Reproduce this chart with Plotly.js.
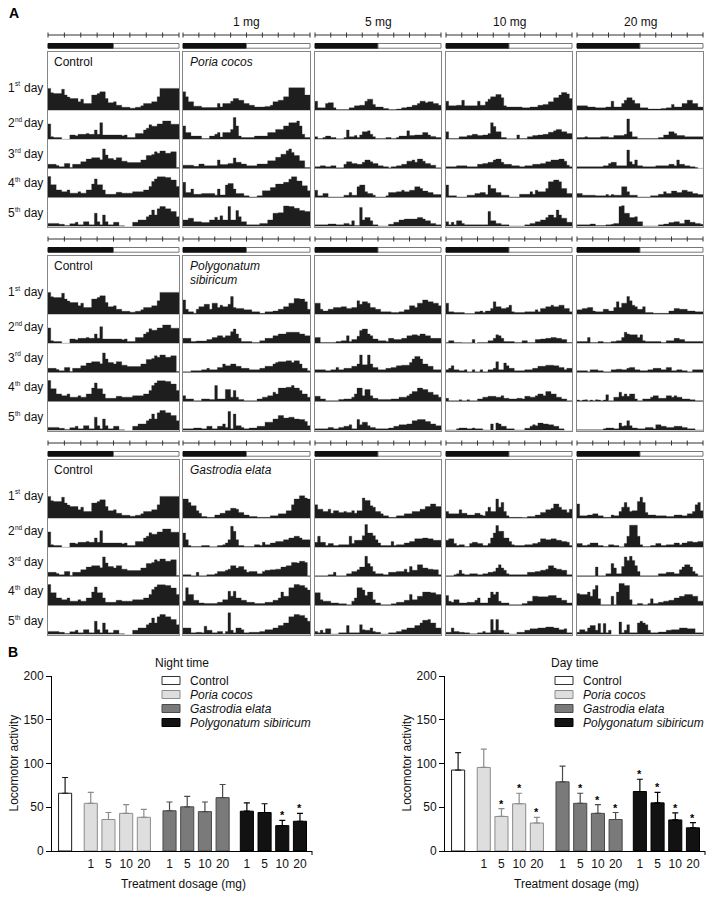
<!DOCTYPE html>
<html><head><meta charset="utf-8">
<script src="https://cdn.plot.ly/plotly-3.0.1.min.js"></script>
<style>html,body{margin:0;padding:0;background:#fff}#chart{width:713px;height:897px}</style>
</head><body><div id="chart"></div>
<script>
// ---------------- DATA ----------------
// Actogram activity per 30-min bin (48 bins = 24 h), in tenths of a row height, days 1..5
const controlDays = [
[7.5,6,5.7,5.7,5.7,7.2,5.2,4.5,4,4,4,2.9,3.8,2.3,2.3,2.3,5.2,5.2,5.7,6.3,6.3,4,2.6,2.6,2.9,1.7,1.7,1,1,1,0.7,0.7,1,1,1.5,2.3,2.3,2.3,2.9,2.9,4.6,7.5,7.5,7.5,7.5,7.5,7.5,7.5],
[5.3,0.9,0.6,0.6,0.6,0,0,0,1.5,1.5,1.2,1.7,1.7,1.7,2,1.7,1.7,3.2,1.7,5.7,1.5,1.5,1.5,1.5,1.5,1.5,1.5,1.2,1.5,0.6,0.6,0.6,2,2,2,3.2,3.8,5,4.5,4.5,5.3,5.3,6.3,6.3,6.3,5.2,5.2,5.2],
[1.4,1.4,1.4,1,0.6,0.6,1.7,1.7,0.3,1.4,1.4,1.4,2.3,2.3,3.2,3.2,3.7,3.7,3.7,3,6.7,4.6,3.4,3.4,2.9,3.7,3.7,2.5,2.5,2,2,2,2,2,2.9,2.9,4.4,4.4,4.8,5.7,5.2,6,6,5.2,5.2,5.7,5.7,0.3],
[7.2,4.4,4.4,2.6,2.6,2,2,2.6,1.5,1.5,1.5,2,1.5,1.5,2.6,2.6,4.6,6.4,4.4,4.4,2.6,1.1,1.1,1.1,1.1,1.8,1.8,1.5,1.5,1.5,1.5,2,2,2,2,2.6,2.6,3.8,5.5,6.4,7.1,7.1,7.1,6.9,6.9,6,6,3.8],
[1.1,1.1,1.1,1.1,0.8,0.8,0.4,0.4,1,1,1.5,0.6,0.6,1.7,1.7,0.6,0.6,4.6,1.7,0.6,4,1.7,0.6,0.6,1.5,1.5,0.3,0.3,0,0,0,1.5,1.5,2.3,2.3,2.3,3.4,4,5.7,4,6.1,6.9,6.9,6.1,6.1,5.2,5.2,3.4]
];
const poria1mg = [
[6.3,4.6,2.9,2.9,1.4,1.4,1.4,0.9,0.9,0.9,0.9,0.9,0.9,2.3,1.1,2.3,2.3,2.3,3.1,4,4,3.4,3.4,2.3,2.3,1.7,1.7,1.1,1.1,1.1,1.1,1.3,1.3,1.7,2.9,2.9,3.4,3.4,4.6,4.6,7.7,7.7,7.7,7.7,7.7,7.7,5.2,5.2],
[4.6,2.3,2.3,1.1,1.1,1.1,1.1,0.3,0.3,0.3,1.1,1.1,1.7,2.3,0.8,2.3,2.3,2.3,3.4,7.5,4.6,1.1,0.6,0.6,0.6,0.6,0.6,1.1,1.1,1.1,1.1,1.1,2.3,2.3,2.3,3.4,3.4,3.4,4.6,4.6,5.7,5.7,5.7,6.3,4.6,1.7,0.6,0.6],
[1.1,1.1,1.1,1.1,0.7,0.7,1.5,1.5,0.9,0.9,0.9,0.9,0.9,2.9,1.3,1.3,1.3,1.7,1.7,3.6,2.1,2.1,1.5,1.5,0.9,0.9,0.9,0.9,1.5,1.5,1.5,1.5,2.6,2.6,2.6,3.8,3.8,4.9,4.9,6.1,6.7,5.5,4.4,4.4,2.6,2.6,0.3,0.3],
[5.2,1.7,1.7,2.9,1.1,1.1,1.1,1.4,1.4,1.4,1.4,1.4,0.8,2.9,0.9,0.9,4.3,4.8,4.8,2.9,1.4,1.4,1.4,0.6,0.6,0.2,0.2,0.2,0.6,0.6,2.3,2.3,2.3,3.4,3.4,4.6,4.6,4.6,5.2,5.2,6.3,7.1,7.1,5.7,5.7,4,4,2.3],
[2.3,2.3,2.9,2.9,1.7,1.7,1.7,1.4,1.4,1.4,2.3,2.3,3.2,2.3,3.7,2.3,2.3,6.9,2.3,2.3,5.5,3.4,1.7,1.7,0.6,0.6,0.6,0.6,0.6,1.1,1.1,1.1,2.3,2.3,4.6,4.6,4.8,4.8,7.1,7.1,6.9,6.9,6.3,6.3,5.5,5.5,5.2,5.2]
];
const poria5mg = [
[3.1,0.8,0.8,0.8,2.3,2.6,2.6,0.8,0.2,0.2,0.2,0.2,0.2,0.8,0.8,1.5,1.5,1.7,1.7,3.1,3.8,3.8,2,1.1,1.1,1.1,0.6,0.6,0.2,0.2,0.2,0.4,0.4,0.8,0.8,1.1,1.1,1.7,1.7,2.3,3.1,3.1,2.6,2.9,2.9,2.3,2.3,1.7],
[0.9,0.3,0.3,0.6,1.1,1.1,0.6,0.6,0.2,0.2,0.2,0.6,3.2,0.9,0.9,1.3,0.6,1.5,2.6,2.6,2.9,1.7,0.9,0.3,0.3,0.3,0.3,0.6,0.6,0.3,0.3,0.6,1.1,1.1,1.1,2.9,1.3,1.3,1.5,1.5,1.5,2.3,2.3,1.5,1,1,0.6,0.6],
[0.6,0.6,0.9,0.9,0.6,0.6,0.9,0.9,0.2,0.2,0.2,1.4,2.3,2.3,1.7,1.7,1.4,1.4,2.1,2.9,2.9,2.3,1.7,1.7,0.9,0.9,0.6,0.6,0.2,0.6,0.6,0.9,0.9,1.4,1.4,2.5,2.5,2.9,2.1,3.2,3.2,2.5,1.7,1.7,1.1,1.1,0.2,0.2],
[2.5,0.6,0.6,1.4,1.4,0.2,0.2,0.2,0.2,0.2,0.2,0.8,0.8,1.7,0.8,0.8,3.7,4.3,4.3,2,1.4,1.4,0.8,0.2,0.2,0.2,0.2,0.6,1.7,1.7,1.7,2,2,2.5,2,2,2.5,2.5,3.7,3.7,3.1,2.2,2.2,1.7,1.7,1,1,1],
[0.6,0.6,0.6,0.6,0.6,0.9,0.9,0.9,0.6,0.6,0.6,1.1,1.1,0.6,2,0.4,0.4,6.6,2.3,3.1,3.1,2,0.6,0.6,0.2,0.2,0.2,0.2,0.8,0.8,1.5,1.5,2.3,2.3,2.6,2.6,2.6,2.6,2.6,3.1,3.1,2.6,2,2,1.1,1.1,0.6,0.6]
];
const poria10mg = [
[3.1,1.5,1.5,1.5,1.7,1.7,3.4,1.5,1.5,1.5,1.5,1.5,3.1,1.7,1.7,2.9,3.8,4.6,4.6,5.4,5.4,4.3,1.5,1.1,1.1,1.1,1.1,1.1,1.1,0.8,0.8,0.8,1.1,1.1,1.1,1.7,1.7,2,2,2.9,2.9,4.3,4.3,5.2,6.1,6.1,5.6,4],
[2.6,0.3,0.3,0.3,0.3,0.9,0.9,0.9,1.3,1.3,1.7,1.7,1.3,1.3,1.5,1.5,2,5.7,4.4,2.6,2.6,0.6,0.6,0.2,0.2,0.2,0.2,1.5,0.3,0.3,0.3,0.9,0.9,1.3,1.3,1.5,1.5,1.7,1.7,2.4,2.4,2.9,3.4,3.4,2.6,2.6,2,2],
[0.6,0.6,0.6,0.6,0.9,0.9,0.9,0.9,0.6,0.6,0.6,0.6,1.4,1.4,1.7,1.7,2.1,2.1,2.9,3.2,3.2,2.1,1.4,1.4,1.4,0.9,0.9,0.9,0.6,0.6,0.9,0.9,0.9,1.4,1.4,1.4,1.7,1.7,2.3,2.3,2.9,2.9,2.9,3.2,3.2,2.5,1.1,0.6],
[4.3,0.6,0.6,0.6,0.2,0.2,0.2,0.2,0.8,0.8,0.8,1.4,1.4,1.7,1.7,1,4.3,3.1,3.1,1.7,1.7,0.8,0.8,0.8,0.2,0.2,0.2,0.2,1.1,1.1,1.1,1.1,2,1.1,2.5,2,2,2,3.1,5.4,5.4,6,6,5.4,3.1,3.1,1.4,1.4],
[1.7,0.6,1.5,0.6,2,2,1.1,0.6,0.6,0.6,0.6,0.6,0.6,0.6,0.6,0.6,5.2,2,2,1.1,1.1,0.6,0.6,0.6,0.2,0.2,0.2,0.2,0.2,0.2,0.6,0.6,1.1,1.1,1.7,1.7,2.3,2.3,3.1,4,4,3.1,5.7,4,2.9,2.9,1.5,1.5]
];
const poria20mg = [
[1.5,1.5,1.5,1.5,1.1,1.1,1.1,0.8,0.8,0.8,0.8,1.1,1.1,3.1,1.1,1.1,1.1,2.3,3.4,4.3,4.3,3.4,2.3,2.3,0.8,0.8,0.8,0.4,0.4,0.4,0.4,0.4,0.6,0.6,0.8,0.8,2,1.1,1.1,1.1,2.3,2.3,3.4,3.4,2.3,2.3,1.1,1.1],
[0.6,0.6,0.6,0.9,0.6,0.6,0.6,0.6,0.6,0.9,0.9,0.9,0.6,0.6,1.3,1.3,1.3,1.3,1.7,7,2.6,0.9,0.9,0.3,0.3,0.3,0.3,0.3,0.3,0.3,0.3,0.6,0.6,1.5,1.5,2.6,2.6,2,1.3,1.3,1.3,0.9,0.9,0.9,0.9,0.9,0.9,0.9],
[0.6,0.6,0.6,0.6,0.6,0.6,0.6,0.6,0.6,0.6,0.9,0.9,1.7,2.1,2.1,0.9,0.9,0.9,0.9,6.3,2.3,1.4,2.9,0.9,0.9,0.6,0.6,0.6,0.6,0.6,0.9,0.9,0.9,0.9,0.9,1.4,1.4,0.9,2.9,1.4,1.4,0.9,0.9,0.6,0.6,0.3,0,0],
[1.4,1.4,0.8,0.8,0.8,0.8,0.8,0.6,0.6,0.6,0.6,1,0.6,1,0.8,0.8,0.8,3.7,3.7,2,0.8,0.8,0.8,0.2,0.2,0.2,0.2,0.2,0.6,0.6,0.6,1.1,1.1,2,1.4,1.4,2.2,2.2,1.7,1.7,2.5,2.5,2,2,1.4,1.4,1,1],
[0.6,0.6,0.6,0.6,0.6,0.9,0.9,0.4,0.4,0.4,0.4,0.6,0.6,0.8,1.1,1.1,6.9,7.2,4.6,4.6,3.1,3.1,3.4,1.7,1.7,0.2,0.2,0.2,0.2,0.2,0.2,0.6,0.6,0.9,0.9,1.4,1.4,1.7,1.7,1.1,1.1,2.3,2.3,1.5,1.5,1.1,1.1,0.8]
];
const polygonatum1mg = [
[4.9,1.7,0.8,0.8,0.3,1.7,2.6,2.6,3.4,3.4,1.7,3.8,3.8,2.3,3.1,2.6,2.6,3.4,6.1,2.3,2,2,2,1.5,1.5,1.5,0.8,0.8,0.8,0.3,0.3,0.8,0.8,0.8,1.1,1.1,1.7,1.7,2.6,2.6,3.8,3.8,5.4,5.4,5.2,5.2,4.3,1.7],
[1.7,1.7,1.7,0.6,0.6,0.8,0.8,0.8,0.8,1.3,1.3,2,2,2.6,2.6,2,2.6,2.6,4,4.9,3.2,1.7,0.6,0.6,0.6,0.6,0.3,0.3,0.3,0.9,0.9,1.7,1.7,1.7,2.6,2.6,3.2,3.2,3.2,3.8,3.8,3.8,3.8,3.8,3.2,3.2,2.6,2.6],
[0.2,0.2,0.2,0.6,0.6,0.6,0.6,0.9,0.9,1.4,0.9,0.9,0.9,1.7,1.7,2.9,2.3,2.3,2.9,2.9,2.1,2.1,1.4,1.4,1.4,0.9,0.9,0.9,0.9,1.4,1.4,2.1,2.1,2.1,2.9,3.4,3.7,3.7,3.7,4,4,3.4,4,4,2.9,1.4,1.4,0.6],
[2,0.9,0.9,0.9,0.3,0.3,0.3,0.9,0.9,0.9,0.7,0.7,5.5,0.9,0.9,0.9,4.1,4.1,1.5,3.8,1.5,0.7,0.7,0.3,0.3,0.3,0.3,0.3,0.9,0.9,1.5,1.5,2,2,3.2,2.6,4.6,4.6,4.6,4.9,4.9,5.5,4.6,4.6,3.8,2.6,2.6,1.5],
[0.6,0.6,0.6,0.6,0.9,0.9,0.9,0.6,0.6,1.5,1.5,0.6,0.6,1.5,1.5,2.3,1.1,6.6,0.6,5.7,1.7,1.7,1.1,0.6,0.6,0.9,0.9,0.9,1.5,1.5,1.5,2.9,2.9,2.9,4,4,5.2,5.2,4.3,4.3,4.6,4.6,4,4,3.8,3.8,3.1,1.7]
];
const polygonatum5mg = [
[3.8,3.8,1.7,1.1,1.1,1.7,1.7,2.3,2.3,2.3,2.6,2.6,2,2,2.3,2.3,4.6,3.4,4.3,4.3,3.8,2.3,2.3,1.7,1.7,0.8,0.8,0.8,0.8,0.6,0.6,0.6,0.8,0.8,1.5,1.5,2.9,2.9,2.3,3.8,3.8,4.9,4.9,4.3,4.3,3.8,3.8,2.9],
[2,2,0.3,0.3,0.3,0.3,0.3,0.3,0.6,0.6,0.9,0.9,2.6,0.6,1.3,1.3,2.4,4.4,4.9,4.9,3.2,2.6,1.5,1.5,0.9,0.9,0.9,0.6,1.7,1.7,1.3,1.3,1.3,1.7,1.7,2.6,2.6,2.9,2.9,2.6,3.2,3.2,2.6,2.6,1.7,1.7,1.7,1.7],
[0.9,0.9,0.9,0.9,0.6,0.6,0.9,0.9,1.7,0.9,0.9,1.4,1.4,1.4,2.1,2.1,2.9,6,2.6,2.6,6,2.9,1.7,1.7,0.9,0.9,0.9,1.4,1.4,1.7,1.7,2.3,2.3,2.5,2.5,2.5,3.4,4.6,5.5,5.5,4.6,2.9,2.9,2.1,2.1,0.9,0.9,0.9],
[1.8,1.8,0.9,0.9,0.3,0.3,0.3,0.3,0.3,0.7,0.7,0.9,0.9,0.9,1.5,2.6,4.6,4.6,2,4.1,4.1,2,1.1,1.1,0.7,0.7,0.7,0.7,0.7,0.9,0.9,0.9,1.5,1.5,1.5,2,2.6,3.4,3.4,4.6,4.6,4.1,4.1,3.2,3.2,2.3,2.3,1.5],
[0.6,0.6,0.6,0.6,0.6,1.1,1.1,0.6,0.6,1.1,1.1,1.5,1.5,2,0.6,0.6,3.8,2,2.9,2.9,1.7,1.1,1.1,0.6,0.6,0.6,0.6,0.6,0.9,0.9,1.5,1.5,2,2,2,2.3,2.3,3.4,3.4,3.8,3.8,3.8,3.1,3.1,2.3,2.3,1.7,1.7]
];
const polygonatum10mg = [
[3.8,0.8,0.8,0.6,0.6,0.6,0.6,0.2,0.2,0.2,0.2,0.8,0.8,1.1,0.6,1.1,1.1,2,4.3,2.6,2.6,2,2,2.3,3.1,0.8,0.6,0.6,0.6,0.6,0.8,0.8,0.8,0.8,1.5,0.8,2,2,2.6,2.6,3.1,2.6,2.6,3.1,3.1,2,2,0.8],
[0.3,0.9,0.9,0.3,0.3,0.3,0.2,0.2,0.2,0.2,1.3,0,0.3,0.3,0.3,0.3,0.9,0.9,1.7,2.9,2.6,1.7,0.6,0.6,0.6,0.6,0.3,0.3,0.3,0.9,0.9,0.3,0.3,0.3,1.3,1.3,1.5,1.5,1.7,1.7,2,2,1.7,1.7,1.3,1.3,0.3,0.3],
[0.9,1.4,2.3,0.9,0.9,0.6,0.6,0.9,0.2,0.2,0.9,0.2,0.2,0.9,0.2,0.2,0.9,0.9,1.4,3.7,0.9,0.9,3.2,2.3,1.4,1.4,0.6,0.6,0.6,0.6,0.9,0.9,0.9,1.4,1.4,2.1,2.1,2.1,2.5,2.5,2.5,2.3,2.3,1.7,1.7,0.9,1.4,1.4],
[1.1,0.3,0.3,0.3,0.3,0.6,0.3,0.3,0.6,0.3,0.3,0.3,0.9,0.9,1.5,1.5,1.8,1.8,1.8,1.5,1.5,2,1.1,1.1,0.9,0.9,0.9,1.1,1.1,0.9,1.8,1.8,1.5,1.5,2,2.6,2.6,2,3.4,3.4,2.6,2.6,1.5,1.5,0.9,0.9,0.3,0.3],
[0.2,0.2,0.2,0.2,0.6,0.9,0.9,0.9,0.6,0.6,0.9,0.6,0.6,0.6,0.2,0.2,0.2,2.3,0.2,2.6,2.3,1.5,1.5,0.6,0.6,0.6,0.2,0.2,0.2,0.2,0.8,0.8,1.5,2,1.7,2.6,2.6,2.3,2.3,2,2,1.5,1.5,0.6,0.6,0,0,0]
];
const polygonatum20mg = [
[1.5,1.5,2,2,2.3,2.3,1.1,0.8,0.8,0.8,1.7,1.7,1.1,1.1,2.3,4.3,2.3,3.8,3.8,6.1,4.6,3.1,2.6,1.7,1.7,2.6,0.6,0.6,0.6,0.3,0.3,0.3,0.3,0.3,0.3,1.1,1.1,2,2,1.7,1.7,1.7,1.1,1.1,1.1,0.8,0.8,0.8],
[0.6,0.6,0.6,0.6,2,0.3,0.3,0.3,0.6,0.6,0.3,0.3,0.3,0.6,0.6,0.9,0.9,2,3.8,3.2,2.9,2.9,2.9,2,2.9,0.9,0.6,0.6,0.6,0.6,0.6,0.6,0.3,0.3,0.9,0.9,0.9,1.7,1.7,1.3,1.3,0.6,0.6,0.6,0.6,0.6,0.6,0.6],
[0.6,0.6,0.6,0.6,0.2,0.9,0.9,0.9,0.6,0.6,0.2,0.2,0.2,0.9,0.9,1.1,1.1,0.9,0.9,1.4,1.7,1.7,0.9,0.9,0.6,0.6,0.6,0.9,0.9,1.4,1.4,1.4,0.9,0.9,1.7,1.7,0.6,0.6,0.9,0.9,0.6,0.6,0.2,0.2,0.9,0.9,0.9,0.9],
[0.5,0.3,0.5,0.6,0.3,0.5,0.3,0.6,0.5,0.3,0.5,2.3,0.3,0.3,1.5,1.5,3.2,1.8,2.6,1.8,2.6,2.6,0.9,0.3,0.3,0.9,0.9,0.9,1.5,2,2,1.1,1.1,1.1,2,2,1.5,2,1.5,1.5,0.9,0.9,0.9,0.6,0.6,0.3,0.3,0.3],
[0.3,0.3,0.3,0.3,0.3,0.3,0.3,0.3,0.3,0.3,0.6,0.9,0.9,0.9,0.6,0.6,2.6,1.5,1.7,3.4,1.7,0.9,0.9,0.6,0.6,0.6,1.1,1.1,1.1,0.6,2,2,1.5,1.5,1.1,1.1,1.1,1.5,1.5,1.5,1.1,1.1,0.6,0.6,0.6,0.2,0.2,0.2]
];
const gastrodia1mg = [
[6.6,6.6,5.4,4.3,4.3,2.6,1.7,0.6,0.6,0.3,0.3,0.3,1.1,1.1,1.7,1.7,2.6,2.6,3.4,3.4,3.1,2,2,1.1,1.1,0.6,0.6,0.6,0.3,0.3,0.3,0.3,0.3,0.8,0.8,0.8,1.5,1.5,1.5,2.6,2.6,4.6,6.6,6.6,7.7,7.7,6.9,6.6],
[4.9,2.6,0.6,0.3,0.3,0.3,0.3,0.6,0.6,0.6,0.2,0.2,0.2,0.6,0.6,0.9,1.5,2.6,7.2,5.5,2.6,0.6,0.6,0.3,0.3,0.3,0.3,0.9,0.9,0.6,1.7,0.9,0.9,1.5,1.5,2,2,2,2.6,2.6,3.2,3.2,3.8,3.8,3.2,2.6,2.6,2.6],
[0.6,0.6,0.6,0.2,0.2,1.4,0.2,0.2,0.2,0.6,0.6,0.6,0.9,1.7,1.7,1.7,2.1,2.5,3.7,3.7,2.9,3.4,3.4,2.3,1.4,1.7,1.7,1.7,0.9,0.9,1.7,2.1,2.1,2.3,2.3,2.5,2.5,3.2,3.2,3.7,3.7,4.8,4.8,4.6,5.2,5.2,4.8,0.2],
[1.5,6.1,3.8,3.8,1.8,1.8,0.9,0.9,0.7,0.7,0.7,0.7,0.7,1.1,1.1,2,2,4.9,3.2,4.9,2.6,2.6,1.8,1.8,1.1,1.1,1.1,0.7,0.7,0.7,0.7,1.1,1.1,1.1,1.8,1.8,2.6,4.6,3.2,3.2,6.1,6.1,7.2,7.2,6.9,6.9,6.1,5.3],
[2.3,2.3,2.3,0.6,0.6,0.8,0.8,0.6,2.9,1.5,1.5,0.6,0.6,1.1,1.1,0.3,1.1,7.5,1.5,0.6,2.3,2.3,1.7,0.6,0.6,0.8,0.8,0.8,0.8,1.1,1.1,1.7,1.7,1.7,2.3,2.3,3.1,3.1,4,4,6.1,6.1,6.9,6.9,6.6,6.6,5.7,4.6]
];
const gastrodia5mg = [
[4.6,3.1,3.1,2.3,2.3,3.1,1.7,2.6,2.6,2,2,2.3,2,2,2.6,1.7,2.6,2.6,6.9,6.1,6.1,4.3,3.8,2.3,2.3,1.5,0.8,0.8,0.3,0.3,0.3,0.8,0.8,0.8,1.5,1.5,1.5,2.3,2.3,2.3,3.1,3.1,4,4,4.9,4.9,4,4],
[1.7,3.8,1.7,1.7,0.6,1.3,1.3,0.6,0.6,0.9,0.9,0.9,0.9,3.8,1.3,2.4,2.4,2.4,4,7.8,4.9,4.9,4,2.6,1.5,0.6,0.6,0.6,0.6,2,0.6,0.9,0.9,0.9,1.5,1.5,2,2,2.9,2.9,2.9,3.2,3.2,2.9,2.9,2.4,2.4,2.4],
[0.2,0.2,0.2,0.2,0.2,0.6,0.6,1.4,0.2,0.2,0.2,0.2,0.9,0.9,1.7,1.7,2.3,3.2,3.2,6.9,4.4,3.4,1.7,0.9,0.9,0.9,0.6,0.6,1.4,1.4,1.4,1.7,1.7,1.7,2.5,1.4,3.4,2.1,2.1,4,4,2.9,2.9,2.5,2.5,2.3,2.3,0.6],
[4.4,4.4,2,1.5,1.5,1.5,0.9,0.9,0.9,0.6,0.6,0.6,0.3,0.3,1.5,2.6,6.1,6.1,5.3,3.4,4.6,4.6,2,0.9,0.9,0.3,0.3,0.3,0.3,0.6,0.6,1.1,1.1,1.1,1.8,1.8,3.8,2,2,3.2,3.2,4.6,4.6,4.6,4.4,4.4,3.8,3.8],
[1.1,0.6,1.5,0.6,2,2,0.2,0.2,0.2,0.6,0.6,0.6,3.1,0.6,0.6,0.6,0.6,3.4,1.7,1.5,1.5,2.3,1.1,0.8,0.8,0.2,0.2,0.2,0.6,0.6,0.6,1.1,1.1,1.7,1.7,2.3,2.3,2.3,3.1,3.1,4,4.9,4.9,5.2,4,4,2.3,2.3]
];
const gastrodia10mg = [
[2.3,1.5,1.5,1.5,1.5,2.9,1.7,1.7,1.1,1.1,1.1,1.7,1.7,1.1,0.8,2.3,3.8,2.3,2.3,6.6,3.8,5.4,2.3,0.8,0.3,0.3,0.3,0.3,0.3,0.2,0.2,0.6,0.6,0.6,1.1,1.1,2,2,2.9,2.9,3.4,4.9,4.9,3.8,2.9,2.9,2,3.1],
[2.4,2.9,2.9,1.3,0.6,0.9,0.9,0.3,0.3,1.3,1.7,1.7,1.3,1.3,0.6,0.6,1.3,3.2,4.9,7.5,5.5,5.5,3.2,3.2,2,0.9,0.6,0.6,0.6,0.6,0.9,0.9,0.9,1.3,1.3,1.7,2.9,2.9,2.6,2.6,2.9,2.9,2.4,2.4,2,2,1.7,0.6],
[0.2,0.2,0.2,0.6,0.9,2.1,0.9,0.6,0.6,0.9,0.9,0.9,0.6,0.6,0.9,0.9,1.4,1.4,1.7,2.9,4,2.9,2.1,0.9,0.6,0.6,0.6,0.6,0.6,0.6,0.6,1.4,1.4,1.4,1.7,1.7,2.1,2.1,2.5,3.7,3.7,2.9,2.5,2.5,2.1,2.1,0.6,0.6],
[3.4,1.5,1.1,2,2,0.9,0.9,0.9,1.1,1.1,1.1,1.8,2.6,0.9,0.9,0.9,2.6,4.6,3.8,4.6,1.5,0.9,0.9,0.9,0.3,0.3,0.3,0.3,0.3,0.7,0.7,1.5,1.5,3.2,3.2,3,3,3,3,3.4,3.4,3.4,2.6,2.6,1.8,1.8,0.9,0.9],
[0.8,0.8,2.3,1.1,1.1,0.8,0.8,0.6,0.6,0.3,0.3,0.3,0.6,0.6,1.1,0.6,0.6,5.2,1.5,5.2,1.5,1.5,0.6,0.6,0.2,0.2,0.2,0.8,0.8,0.8,1.5,1.5,2,2,2,2.3,2.3,2.3,2.6,2.6,2.6,2.3,2.3,1.7,1.7,2,0.6,0.6]
];
const gastrodia20mg = [
[4.9,0.8,0.8,0.8,1.1,1.1,1.5,1.5,0.8,0.8,0.3,0.3,0.3,1.1,0.8,0.8,2.3,3.8,5.4,3.8,2.3,2.6,2.6,5.7,7.2,5.4,2,1.1,1.1,1.1,0.8,0.8,0.8,0.8,0.6,0.6,0.6,1.1,1.1,1.1,0.8,0.8,1.5,1.5,2.3,4.6,5.4,2.6],
[1.3,1.3,0.6,0.6,0.9,1.5,1.5,1.5,0.6,0.6,0.3,0.3,0.9,0.9,0.6,0.6,0.2,0.2,1.3,3.8,7.6,7.6,7.6,3.8,0.9,0.3,0.3,0.3,0.6,0.6,1.3,1.3,0.6,0.6,0.9,0.9,0.9,1.5,1.5,0.9,1.5,1.5,2,2,1.7,1.7,2,2],
[0.2,0.2,0.2,0.2,0.2,0.2,0.2,3.2,0.2,0.2,0.2,0.9,0.9,4.4,2.9,0.9,0.9,3.4,6.7,5.5,6.9,5.5,3.7,1.7,0.2,0.2,0.2,0.2,0.2,0.2,0.2,0.9,0.9,0.9,1.4,1.4,1.4,0.9,0.9,2.3,3.2,4,4,3.2,1.7,0.9,0.2,0.2],
[4.1,3.8,3.8,3.8,4.6,3.2,5.5,6.9,2.3,0.3,0.3,0.3,0.3,3.2,0.3,4.6,7.6,7.6,6.9,6.9,2,0.3,0.3,0.7,0.7,0.3,0.3,0.7,2.3,0.7,0.7,1.1,1.1,1.5,1.5,1.8,1.8,2.6,2.6,3.2,3.2,3.8,3.8,3.8,3.2,3.2,1.5,1.5],
[0.8,1.7,1.7,1.1,2.3,3.1,3.1,1.5,3.8,0.6,3.8,0.6,1.5,0,0,0,4.3,0.6,1.5,3.4,0.6,0.6,0.6,4,4.6,4,3.4,1.5,0.6,0.6,0.6,0.9,0.9,0.9,1.5,1.5,1.7,1.7,1.7,2.3,2.3,2.3,2,2,2,0.6,0.6,0.6]
];

const doseTitles = ['', '1 mg', '5 mg', '10 mg', '20 mg'];
const dayNumbers = ['1', '2', '3', '4', '5'];
const daySuffixes = ['st', 'nd', 'rd', 'th', 'th'];

// Panel B: locomotor activity (mean, SEM)
const seriesNames = ['Control', 'Poria cocos', 'Gastrodia elata', 'Polygonatum sibiricum'];
const dosageLabels = ['1', '5', '10', '20'];
const nightControl = [66],               nightControlErr = [18];
const nightPoria = [54.5, 36, 43, 38.5],  nightPoriaErr = [12.5, 8, 10, 9];
const nightGastrodia = [46, 50.5, 45, 61], nightGastrodiaErr = [10, 12, 11, 15];
const nightPolygonatum = [45.5, 44, 29, 34], nightPolygonatumErr = [9.5, 10, 6, 9];
const nightSignif = [[0], [0,0,0,0], [0,0,0,0], [0,0,1,1]];
const dayControl = [92.5],               dayControlErr = [20];
const dayPoria = [95.5, 39.5, 54, 32],    dayPoriaErr = [21, 9, 12, 6.5];
const dayGastrodia = [79, 54.5, 43, 36],  dayGastrodiaErr = [18, 11.5, 10, 8];
const dayPolygonatum = [68, 55, 35.5, 26.5], dayPolygonatumErr = [14, 12, 8, 6];
const daySignif = [[0], [0,1,1,1], [0,1,1,1], [1,1,1,1]];

// ---------------- LAYOUT HELPERS ----------------
const FONT = 'Liberation Sans, Arial, Helvetica, sans-serif';
const W = 713, H = 897;
const PX = x => x / W, PY = y => 1 - y / H;
const colX = [[48,179],[183,310],[315,441],[446,572],[577,703]];
const groupTop = [52, 256, 460];
const rowH = 29.1;
const binEdges = Array.from({length:49}, (_, i) => i * 0.5); // hours, 30-min bins

const groups = [
  {panels:[controlDays, poria1mg, poria5mg, poria10mg, poria20mg], label:['<i>Poria cocos</i>']},
  {panels:[controlDays, polygonatum1mg, polygonatum5mg, polygonatum10mg, polygonatum20mg], label:['<i>Polygonatum</i>','<i>sibiricum</i>']},
  {panels:[controlDays, gastrodia1mg, gastrodia5mg, gastrodia10mg, gastrodia20mg], label:['<i>Gastrodia elata</i>']}
];

const traces = [], annotations = [], shapes = [];
const layout = {
  width: W, height: H, margin:{l:0,r:0,t:0,b:0,pad:0},
  paper_bgcolor:'#fff', plot_bgcolor:'rgba(0,0,0,0)',
  barmode:'overlay', showlegend:false, font:{family:FONT, size:12, color:'#111'},
  annotations, shapes
};
function txt(x, y, text, opt) {
  const a = {xref:'paper', yref:'paper', x:PX(x), y:PY(y), text, showarrow:false,
    xanchor:'left', yanchor:'middle', font:{family:FONT, size:12, color:'#111'}};
  annotations.push(Object.assign(a, opt || {}));
}
function pline(x0, y0, x1, y1, color, width) {
  shapes.push({type:'line', xref:'paper', yref:'paper', x0:PX(x0), y0:PY(y0), x1:PX(x1), y1:PY(y1),
    line:{color:color, width:width}});
}
function prect(x0, y0, x1, y1, fill, lc) {
  shapes.push({type:'rect', xref:'paper', yref:'paper', x0:PX(x0), y0:PY(y0), x1:PX(x1), y1:PY(y1),
    fillcolor:fill, line:{color:lc, width:1}});
}
const boxAxis = {showline:true, mirror:true, linecolor:'#858585', linewidth:1, showgrid:false,
  zeroline:false, showticklabels:false, ticks:'', fixedrange:true};

txt(7, 13, '<b>A</b>', {font:{family:FONT, size:14, color:'#000'}});
doseTitles.forEach((t, ci) => { if (t) txt((colX[ci][0] + colX[ci][1]) / 2, 22, t, {xanchor:'center'}); });

const ACT = '#1e1e1e';
let n = 0;
groups.forEach((g, gi) => {
  const top = groupTop[gi], bottom = top + 6 * rowH;
  g.panels.forEach((days, ci) => {
    n++;
    const xa = n === 1 ? 'x' : 'x' + n, ya = n === 1 ? 'y' : 'y' + n;
    layout[n === 1 ? 'xaxis' : 'xaxis' + n] = Object.assign({domain:[PX(colX[ci][0]), PX(colX[ci][1])], range:[0,24], anchor:ya}, boxAxis);
    layout[n === 1 ? 'yaxis' : 'yaxis' + n] = Object.assign({domain:[PY(bottom), PY(top)], range:[0,6], anchor:xa}, boxAxis);
    days.forEach((vals, di) => {
      const base = 4 - di;
      // baseline of the day row
      traces.push({type:'scatter', mode:'lines', x:[0, 24], y:[base, base], xaxis:xa, yaxis:ya,
        line:{width:0, color:ACT}, hoverinfo:'skip', showlegend:false});
      // step histogram of activity, filled down to the baseline
      const ys = vals.map(v => base + v / 10);
      ys.push(ys[ys.length - 1]);
      traces.push({type:'scatter', mode:'lines', x:binEdges, y:ys, xaxis:xa, yaxis:ya,
        line:{shape:'hv', width:0.3, color:ACT}, fill:'tonexty', fillcolor:ACT,
        hoverinfo:'skip', showlegend:false});
    });
    // time ruler and light/dark bar
    const [x0, x1] = colX[ci], ry = top - 17, mid = (x0 + x1) / 2;
    pline(x0, ry, x1, ry, '#333', 1);
    for (let t = 0; t <= 8; t++) { const x = x0 + (x1 - x0) * t / 8; pline(x, ry - 2.5, x, ry + 2.5, '#333', 1); }
    prect(x0, top - 8.5, mid, top - 3.8, '#111', '#111');
    prect(mid, top - 8.5, x1, top - 3.8, '#fff', '#777');
  });
  txt(52, top + 10, 'Control');
  g.label.forEach((l, li) => txt(188, top + 10 + li * 13.5, l));
  const dayOff = [36, 71, 102, 131, 161];
  dayNumbers.forEach((d, di) => {
    const yc = top + dayOff[di];
    txt(6, yc, d);
    txt(12.5, yc - 4, daySuffixes[di], {font:{family:FONT, size:6.5, color:'#111'}});
    txt(44.5, yc, 'day', {xanchor:'right'});
  });
});

// ---------------- PANEL B ----------------
txt(6, 652, '<b>B</b>', {font:{family:FONT, size:14, color:'#000'}});
const styles = [
  {fill:'#ffffff', line:'#1a1a1a'},
  {fill:'#dedede', line:'#8c8c8c'},
  {fill:'#7a7a7a', line:'#4a4a4a'},
  {fill:'#121212', line:'#000000'}
];
const groupStart = [0, 1.45, 5.9, 10.27];
const positions = groupStart.map((s, k) => (k === 0 ? [0] : dosageLabels.map((_, i) => s + i)));
const tickvals = [].concat(positions[1], positions[2], positions[3]);
const ticktext = [].concat(dosageLabels, dosageLabels, dosageLabels);

const charts = [
  {id:16, means:[nightControl, nightPoria, nightGastrodia, nightPolygonatum],
   errs:[nightControlErr, nightPoriaErr, nightGastrodiaErr, nightPolygonatumErr], sig:nightSignif,
   left:52, right:312, title:'Night time', titleX:182, legendX:162},
  {id:17, means:[dayControl, dayPoria, dayGastrodia, dayPolygonatum],
   errs:[dayControlErr, dayPoriaErr, dayGastrodiaErr, dayPolygonatumErr], sig:daySignif,
   left:445, right:705, title:'Day time', titleX:575, legendX:555}
];
const yTop = 676, yBot = 851;
charts.forEach(c => {
  const xa = 'x' + c.id, ya = 'y' + c.id;
  layout['xaxis' + c.id] = {domain:[PX(c.left), PX(c.right)], range:[-0.74, 13.95], anchor:ya,
    showline:true, linecolor:'#000', linewidth:1, ticks:'', tickvals, ticktext, showgrid:false,
    zeroline:false, fixedrange:true, tickfont:{family:FONT, size:12, color:'#111'}, ticklabelstandoff:2};
  layout['yaxis' + c.id] = {domain:[PY(yBot), PY(yTop)], range:[0, 200], anchor:xa,
    showline:true, linecolor:'#000', linewidth:1, ticks:'outside', ticklen:5, tickwidth:1, tickcolor:'#000',
    tickvals:[0,50,100,150,200], showgrid:false, zeroline:false, fixedrange:true,
    tickfont:{family:FONT, size:12, color:'#111'}};
  c.means.forEach((vals, k) => {
    traces.push({type:'bar', x:positions[k], y:vals, width:0.74, xaxis:xa, yaxis:ya,
      marker:{color:styles[k].fill, line:{color:styles[k].line, width:1}},
      error_y:{type:'data', symmetric:false, array:c.errs[k], arrayminus:vals.map(() => 0),
        color:styles[k].line, thickness:1.2, width:3},
      hoverinfo:'skip', showlegend:false, name:seriesNames[k]});
    vals.forEach((v, i) => {
      if (c.sig[k][i]) annotations.push({xref:xa, yref:ya, x:positions[k][i], y:v + c.errs[k][i],
        text:'<b>*</b>', showarrow:false, yanchor:'bottom', yshift:-3, font:{family:FONT, size:11, color:'#000'}});
    });
  });
  // right end tick on x axis
  pline(c.right, yBot, c.right, yBot + 4, '#000', 1);
  txt(c.titleX, 663, c.title, {xanchor:'center'});
  seriesNames.forEach((s, k) => {
    const yc = 680.5 + k * 14;
    prect(c.legendX, yc - 4, c.legendX + 18, yc + 4, styles[k].fill, k === 0 ? '#333' : styles[k].line);
    txt(c.legendX + 26, yc, k === 0 ? s : '<i>' + s + '</i>');
  });
  txt(c.left - 39, (yTop + yBot) / 2, 'Locomotor activity', {xanchor:'center', textangle:-90});
  txt((c.left + c.right) / 2 + 1, 884, 'Treatment dosage (mg)', {xanchor:'center'});
});

Plotly.newPlot('chart', traces, layout, {staticPlot:true, displayModeBar:false});
</script></body></html>
